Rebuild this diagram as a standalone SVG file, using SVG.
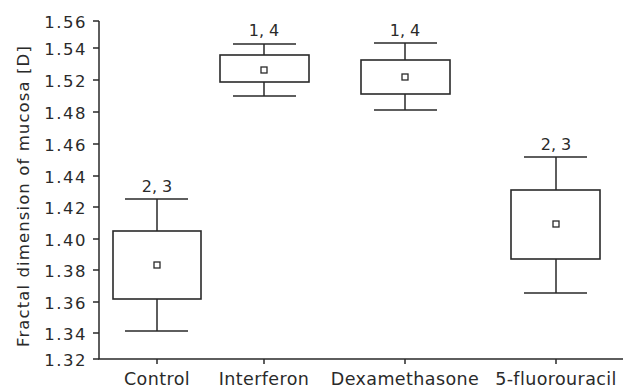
<svg xmlns="http://www.w3.org/2000/svg" width="623" height="389" viewBox="0 0 623 389">
<style>
.ax{stroke:#2a2a2a;stroke-width:1.5;fill:none}
.bx{stroke:#2a2a2a;stroke-width:1.6;fill:#fff}
.mk{stroke:#2a2a2a;stroke-width:1.3;fill:#fff}
text{font-family:"DejaVu Sans","Liberation Sans",sans-serif;fill:#2a2a2a}
.yt{font-size:16.5px;text-anchor:end;letter-spacing:1.5px}
.xt{font-size:17.5px;text-anchor:middle;letter-spacing:0.4px}
.an{font-size:16px;text-anchor:middle}
.tt{font-size:16.5px;text-anchor:middle;letter-spacing:1.1px}
</style>
<rect width="623" height="389" fill="#fff"/>
<g id="axes">
<path class="ax" d="M99,21 V359 H623"/>
<path class="ax" d="M93,21H99M93,48H99M93,80H99M93,112H99M93,144H99M93,176H99M93,207H99M93,239H99M93,270H99M93,302H99M93,333H99M93,359H99"/>
<path class="ax" d="M157,359V364M264,359V364M405,359V364M556,359V364"/>
<text class="yt" x="87" y="28">1.56</text>
<text class="yt" x="87" y="54.5">1.54</text>
<text class="yt" x="87" y="86.5">1.52</text>
<text class="yt" x="87" y="118.5">1.48</text>
<text class="yt" x="87" y="150.5">1.46</text>
<text class="yt" x="87" y="182.5">1.44</text>
<text class="yt" x="87" y="213.5">1.42</text>
<text class="yt" x="87" y="245.5">1.40</text>
<text class="yt" x="87" y="276.5">1.38</text>
<text class="yt" x="87" y="308.5">1.36</text>
<text class="yt" x="87" y="339.5">1.34</text>
<text class="yt" x="87" y="365.5">1.32</text>
<text class="tt" transform="translate(29,196) rotate(-90)">Fractal dimension of mucosa [D]</text>
<text class="xt" x="157" y="384.5">Control</text>
<text class="xt" x="264" y="384.5">Interferon</text>
<text class="xt" x="405" y="384.5">Dexamethasone</text>
<text class="xt" x="556" y="384.5">5-fluorouracil</text>
</g>
<g id="control">
<path class="ax" d="M125,199H188M157,199V231M157,299V331M125,331H188"/>
<rect class="bx" x="113" y="231" width="88" height="68"/>
<rect class="mk" x="154" y="262" width="6" height="6"/>
<text class="an" x="157" y="192">2, 3</text>
</g>
<g id="interferon">
<path class="ax" d="M233,44H296M264,44V55M264,82V96M233,96H296"/>
<rect class="bx" x="220" y="55" width="89" height="27"/>
<rect class="mk" x="261" y="67" width="6" height="6"/>
<text class="an" x="264" y="36">1, 4</text>
</g>
<g id="dexamethasone">
<path class="ax" d="M374,43H437M405,43V60M405,94V110M374,110H437"/>
<rect class="bx" x="361" y="60" width="89" height="34"/>
<rect class="mk" x="402" y="74" width="6" height="6"/>
<text class="an" x="405" y="36">1, 4</text>
</g>
<g id="fluorouracil">
<path class="ax" d="M524,157H587M556,157V190M556,259V293M524,293H587"/>
<rect class="bx" x="511" y="190" width="89" height="69"/>
<rect class="mk" x="553" y="221" width="6" height="6"/>
<text class="an" x="556" y="150">2, 3</text>
</g>
</svg>
